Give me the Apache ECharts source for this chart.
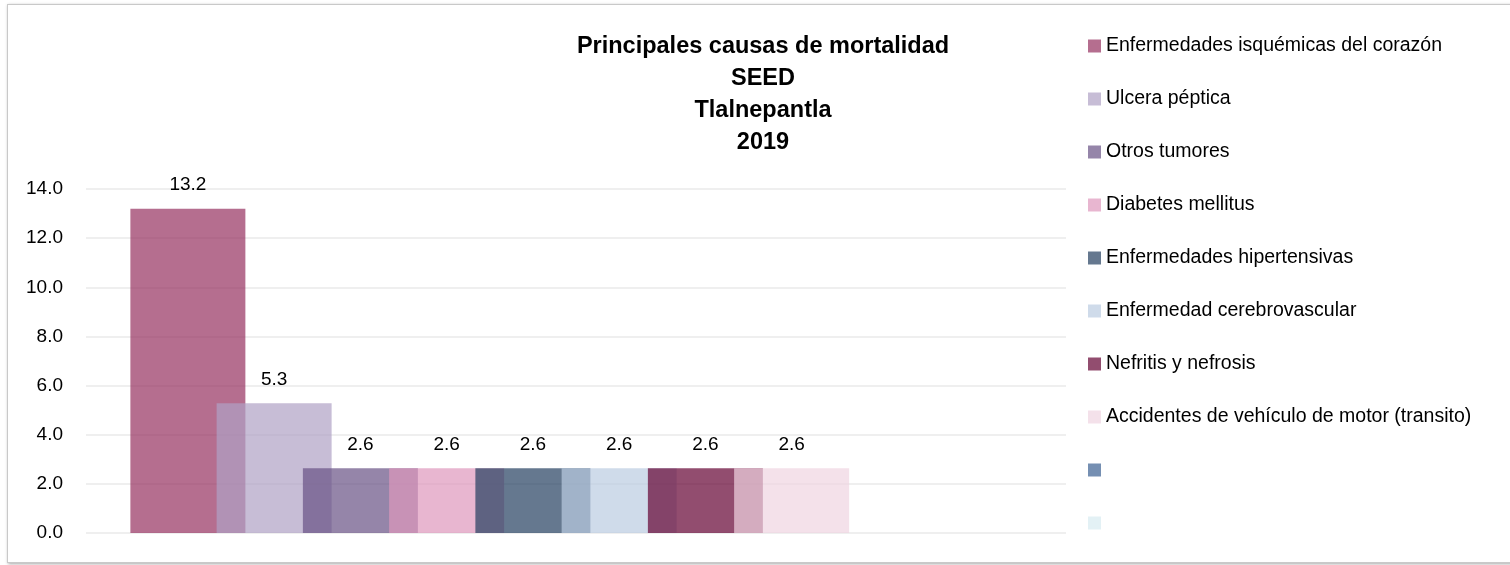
<!DOCTYPE html>
<html>
<head>
<meta charset="utf-8">
<script src="https://cdn.jsdelivr.net/npm/echarts@6/dist/echarts.min.js"></script>
<style>
  html, body { margin: 0; padding: 0; background: #fff; }
  #frame {
    position: absolute; left: 7px; top: 4px; width: 1510px; height: 557px;
    border: 1px solid #c9c9c9; box-shadow: 1px 1px 3px rgba(0, 0, 0, 0.35);
  }
  #chart { position: absolute; left: 0; top: 0; width: 1510px; height: 565px; }
</style>
</head>
<body>
<div id="frame"></div>
<div id="chart"></div>
<script>
const titleLines = ['Principales causas de mortalidad', 'SEED', 'Tlalnepantla', '2019']

// last two series have no name and no value in the source chart
const causes = [
  'Enfermedades isquémicas del corazón',
  'Ulcera péptica',
  'Otros tumores',
  'Diabetes mellitus',
  'Enfermedades hipertensivas',
  'Enfermedad cerebrovascular',
  'Nefritis y nefrosis',
  'Accidentes de vehículo de motor (transito)',
  ' ',
  '  ',
]
const rates = [13.2, 5.28, 2.64, 2.64, 2.64, 2.64, 2.64, 2.64, null, null]

const colors = [
  'rgba(149,48,96,0.7)',
  'rgba(175,161,196,0.7)',
  'rgba(104,81,132,0.7)',
  'rgba(222,151,188,0.7)',
  'rgba(36,62,95,0.7)',
  'rgba(186,204,225,0.7)',
  'rgba(100,2,50,0.7)',
  'rgba(239,212,225,0.7)',
  'rgba(58,96,146,0.7)',
  'rgba(215,235,241,0.7)',
]

const yMin = 0
const yMax = 14
const yStep = 2

const font = '"Liberation Sans", Arial, sans-serif'

const chart = echarts.init(document.getElementById('chart'))

const series = causes.map((name, i) => ({
  type: 'bar',
  name: name,
  data: [rates[i] == null ? '-' : rates[i]],
  barWidth: 115,
  barGap: '-25%',
  itemStyle: { color: colors[i] },
  label: {
    show: true,
    position: 'top',
    distance: 14,
    color: '#000',
    fontFamily: font,
    fontSize: 19,
    formatter: p => Number(p.value).toFixed(1),
  },
  emphasis: { disabled: true },
}))

chart.setOption({
  animation: false,
  backgroundColor: 'transparent',
  title: {
    text: titleLines.join('\n'),
    left: 763,
    top: 31,
    padding: 0,
    textAlign: 'center',
    textStyle: {
      fontFamily: font,
      fontSize: 23.5,
      fontWeight: 'bold',
      color: '#000',
      lineHeight: 32,
    },
  },
  legend: {
    orient: 'vertical',
    left: 1088,
    top: 36,
    padding: 0,
    itemWidth: 13,
    itemHeight: 13,
    itemGap: 33,
    icon: 'rect',
    selectedMode: false,
    data: causes,
    textStyle: {
      fontFamily: font,
      fontSize: 19.5,
      color: '#000',
      lineHeight: 20,
    },
  },
  grid: { left: 86, right: 444, top: 189, bottom: 32, containLabel: false },
  xAxis: {
    type: 'category',
    data: [''],
    axisLine: { show: false },
    axisTick: { show: false },
    axisLabel: { show: false },
  },
  yAxis: {
    type: 'value',
    min: yMin,
    max: yMax,
    interval: yStep,
    axisLine: { show: false },
    axisTick: { show: false },
    splitLine: { lineStyle: { color: '#efefef', width: 2 } },
    axisLabel: {
      margin: 23,
      color: '#000',
      fontFamily: font,
      fontSize: 19,
      formatter: v => v.toFixed(1),
    },
  },
  series: series,
})
</script>
</body>
</html>
